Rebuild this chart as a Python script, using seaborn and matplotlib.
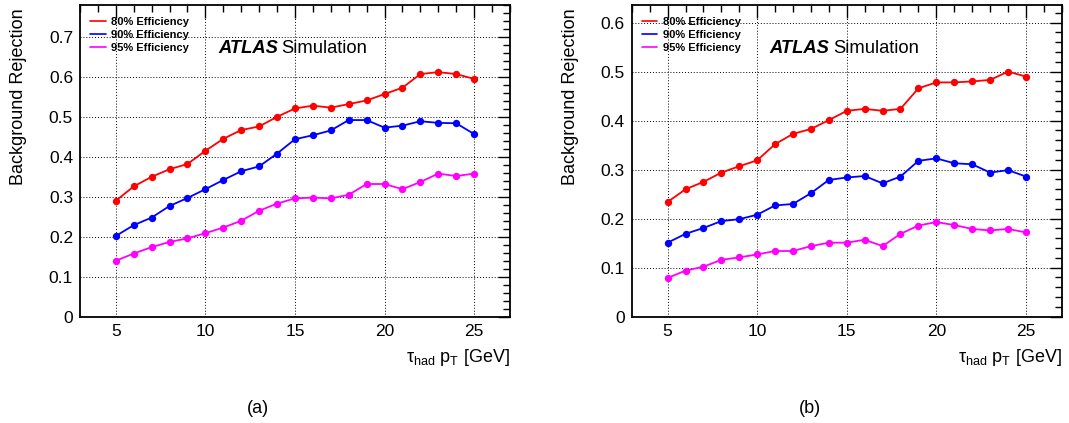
import numpy as np
import pandas as pd
import seaborn as sns
import matplotlib
matplotlib.use("Agg")
import matplotlib.pyplot as plt
from matplotlib.lines import Line2D
from matplotlib.ticker import MultipleLocator, FuncFormatter

# tau_had pT bins [GeV]
pt = list(range(5, 26))

# Panel (a): background rejection per working point
rej_a_80 = [0.290, 0.326, 0.350, 0.369, 0.382, 0.415, 0.445, 0.467, 0.476, 0.500,
            0.521, 0.528, 0.523, 0.532, 0.541, 0.557, 0.573, 0.607, 0.612, 0.607, 0.595]
rej_a_90 = [0.202, 0.229, 0.248, 0.277, 0.297, 0.319, 0.342, 0.364, 0.376, 0.408,
            0.444, 0.454, 0.466, 0.492, 0.492, 0.473, 0.478, 0.489, 0.485, 0.484, 0.457]
rej_a_95 = [0.140, 0.158, 0.174, 0.187, 0.196, 0.209, 0.223, 0.240, 0.265, 0.283,
            0.296, 0.298, 0.296, 0.305, 0.332, 0.332, 0.319, 0.337, 0.358, 0.352, 0.358]

# Panel (b)
rej_b_80 = [0.234, 0.260, 0.275, 0.294, 0.307, 0.319, 0.352, 0.373, 0.383, 0.401,
            0.420, 0.424, 0.420, 0.424, 0.466, 0.478, 0.478, 0.480, 0.483, 0.500, 0.490]
rej_b_90 = [0.151, 0.169, 0.181, 0.195, 0.199, 0.208, 0.227, 0.230, 0.252, 0.279,
            0.284, 0.287, 0.272, 0.286, 0.318, 0.323, 0.313, 0.311, 0.294, 0.299, 0.286]
rej_b_95 = [0.079, 0.094, 0.102, 0.116, 0.121, 0.127, 0.134, 0.134, 0.144, 0.151,
            0.151, 0.157, 0.144, 0.169, 0.186, 0.193, 0.187, 0.179, 0.176, 0.179, 0.172]

labels = ["80% Efficiency", "90% Efficiency", "95% Efficiency"]
colors = ["#ff0000", "#0000ff", "#ff00ff"]

sns.set_theme(style="white")
plt.rcParams["font.family"] = ["Liberation Sans", "DejaVu Sans"]
plt.rcParams["text.color"] = "black"
plt.rcParams["axes.labelcolor"] = "black"
plt.rcParams["xtick.color"] = "black"
plt.rcParams["ytick.color"] = "black"
plt.rcParams["mathtext.fontset"] = "custom"
plt.rcParams["mathtext.rm"] = "Liberation Sans"
plt.rcParams["mathtext.it"] = "Liberation Sans:italic"


def long_frame(series):
    rows = []
    for lab, vals in zip(labels, series):
        for x, v in zip(pt, vals):
            rows.append({"pt": x, "rej": v, "wp": lab})
    return pd.DataFrame(rows)


fig = plt.figure(figsize=(10.69, 4.23), dpi=100)
ax_a = fig.add_axes([0.0748, 0.2513, 0.4022, 0.737])
ax_b = fig.add_axes([0.5910, 0.2513, 0.4022, 0.737])

panels = [
    (ax_a, [rej_a_80, rej_a_90, rej_a_95], 0.78, "(a)"),
    (ax_b, [rej_b_80, rej_b_90, rej_b_95], 0.636, "(b)"),
]

for ax, series, ymax, tag in panels:
    df = long_frame(series)
    sns.lineplot(data=df, x="pt", y="rej", hue="wp", palette=colors,
                 hue_order=labels, marker="o", markersize=5.3, markeredgewidth=0,
                 linewidth=1.3, legend=False, ax=ax, zorder=3)
    ax.set_xlim(3, 27)
    ax.set_ylim(0, ymax)
    ax.xaxis.set_major_locator(MultipleLocator(5))
    ax.xaxis.set_minor_locator(MultipleLocator(1))
    ax.yaxis.set_major_locator(MultipleLocator(0.1))
    ax.yaxis.set_minor_locator(MultipleLocator(0.02))
    ax.yaxis.set_major_formatter(FuncFormatter(
        lambda v, p: "0" if abs(v) < 1e-9 else f"{v:.1f}"))
    ax.tick_params(which="both", direction="in", top=True, right=True,
                   colors="black", labelcolor="black", labelsize=12.5, width=1.0)
    ax.tick_params(which="major", length=9)
    ax.tick_params(which="minor", length=5)
    ax.tick_params(axis="x", which="major", pad=5)
    ax.tick_params(axis="y", which="major", pad=5)
    ax.grid(True, which="major", linestyle=(0, (1, 2)), color="black", linewidth=0.7)
    for s in ax.spines.values():
        s.set_color("black")
        s.set_linewidth(1.3)
    ax.set_xlabel("")
    ax.set_ylabel("")
    ax.text(-0.142, 0.99, "Background Rejection", rotation=90, ha="center",
            va="top", fontsize=13, color="black", transform=ax.transAxes)
    ax.text(1.0, -0.13, "τ$_{\\mathrm{had}}$ p$_{\\mathrm{T}}$ [GeV]",
            ha="right", va="center", fontsize=13, color="black",
            transform=ax.transAxes)
    ax.text(0.321, 0.845, "ATLAS", fontsize=13.2, fontweight="bold",
            fontstyle="italic", color="black", transform=ax.transAxes)
    ax.text(0.469, 0.845, "Simulation", fontsize=13.2, color="black",
            transform=ax.transAxes)
    handles = [Line2D([0], [0], color=c, linewidth=1.2) for c in colors]
    leg = ax.legend(handles, labels, loc="upper left", frameon=False,
                    prop={"size": 8, "weight": "bold"}, handlelength=1.4,
                    handletextpad=0.5, labelspacing=0.28,
                    bbox_to_anchor=(0.0, 0.995), borderaxespad=0.5)
    for t in leg.get_texts():
        t.set_color("black")
    ax.text(0.414, -0.293, tag, ha="center", va="center", fontsize=13,
            color="black", transform=ax.transAxes)

fig.savefig("out.png", dpi=100)
